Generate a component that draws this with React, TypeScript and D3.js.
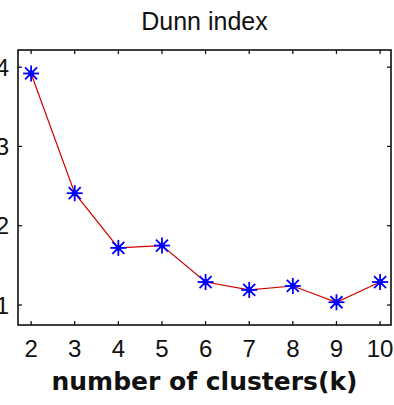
import React from "react";
import * as d3 from "d3";

// Number of clusters k and the Dunn index for each
const clusters: number[] = [2, 3, 4, 5, 6, 7, 8, 9, 10];
const dunnIndex: number[] = [3.92, 2.41, 1.72, 1.75, 1.29, 1.19, 1.24, 1.035, 1.29];
const xTicks: number[] = [2, 3, 4, 5, 6, 7, 8, 9, 10];
const yTicks: number[] = [1, 2, 3, 4];
const titleText = "Dunn index";
const xLabelText = "number of clusters(k)";

const W = 394;
const H = 405;
const box = { left: 18, right: 391, top: 50, bottom: 325 };

export default function App() {
  const x = d3.scaleLinear().domain([1.7, 10.25]).range([box.left, box.right]);
  const y = d3.scaleLinear().domain([0.748, 4.216]).range([box.bottom, box.top]);

  const line = d3
    .line<number>()
    .x((_, i) => x(clusters[i]))
    .y((d) => y(d));

  const tickLen = 4;
  const font = "'Liberation Sans', Arial, sans-serif";
  const r = 8;
  const rd = 6;

  return (
    <svg
      width={W}
      height={H}
      style={{ position: "absolute", left: 0, top: 0, background: "#fff" }}
    >
      <rect x={0} y={0} width={W} height={H} fill="#fff" />
      {/* title */}
      <text
        x={(box.left + box.right) / 2}
        y={30}
        textAnchor="middle"
        fontFamily={font}
        fontSize={25}
        fill="#111"
      >
        {titleText}
      </text>

      {/* axes box */}
      <rect
        x={box.left}
        y={box.top}
        width={box.right - box.left}
        height={box.bottom - box.top}
        fill="none"
        stroke="#000"
        strokeWidth={1.5}
      />

      {/* x ticks, bottom and top */}
      {xTicks.map((t) => (
        <g key={"x" + t}>
          <line x1={x(t)} x2={x(t)} y1={box.bottom} y2={box.bottom - tickLen} stroke="#000" strokeWidth={1.2} />
          <line x1={x(t)} x2={x(t)} y1={box.top} y2={box.top + tickLen} stroke="#000" strokeWidth={1.2} />
          <text
            x={x(t)}
            y={357}
            textAnchor="middle"
            fontFamily={font}
            fontSize={24}
            fill="#111"
          >
            {t}
          </text>
        </g>
      ))}

      {/* y ticks, left and right */}
      {yTicks.map((t) => (
        <g key={"y" + t}>
          <line x1={box.left} x2={box.left + tickLen} y1={y(t)} y2={y(t)} stroke="#000" strokeWidth={1.2} />
          <line x1={box.right} x2={box.right - tickLen} y1={y(t)} y2={y(t)} stroke="#000" strokeWidth={1.2} />
          <text
            x={9}
            y={y(t) + 8.5}
            textAnchor="end"
            fontFamily={font}
            fontSize={24}
            fill="#111"
          >
            {t}
          </text>
        </g>
      ))}

      {/* data line */}
      <path d={line(dunnIndex) ?? ""} fill="none" stroke="#d00000" strokeWidth={1.2} />

      {/* asterisk markers */}
      {dunnIndex.map((v, i) => {
        const cx = x(clusters[i]);
        const cy = y(v);
        return (
          <g key={"m" + i} stroke="#0000ff" strokeWidth={1.8}>
            <line x1={cx - r} x2={cx + r} y1={cy} y2={cy} />
            <line x1={cx} x2={cx} y1={cy - r} y2={cy + r} />
            <line x1={cx - rd} x2={cx + rd} y1={cy - rd} y2={cy + rd} />
            <line x1={cx - rd} x2={cx + rd} y1={cy + rd} y2={cy - rd} />
            <circle cx={cx} cy={cy} r={3} fill="#0000ff" stroke="none" />
          </g>
        );
      })}

      {/* x axis label */}
      <text
        x={(box.left + box.right) / 2}
        y={390}
        textAnchor="middle"
        fontFamily="'DejaVu Sans', sans-serif"
        fontWeight="bold"
        fontSize={25}
        fill="#111"
      >
        {xLabelText}
      </text>
    </svg>
  );
}
